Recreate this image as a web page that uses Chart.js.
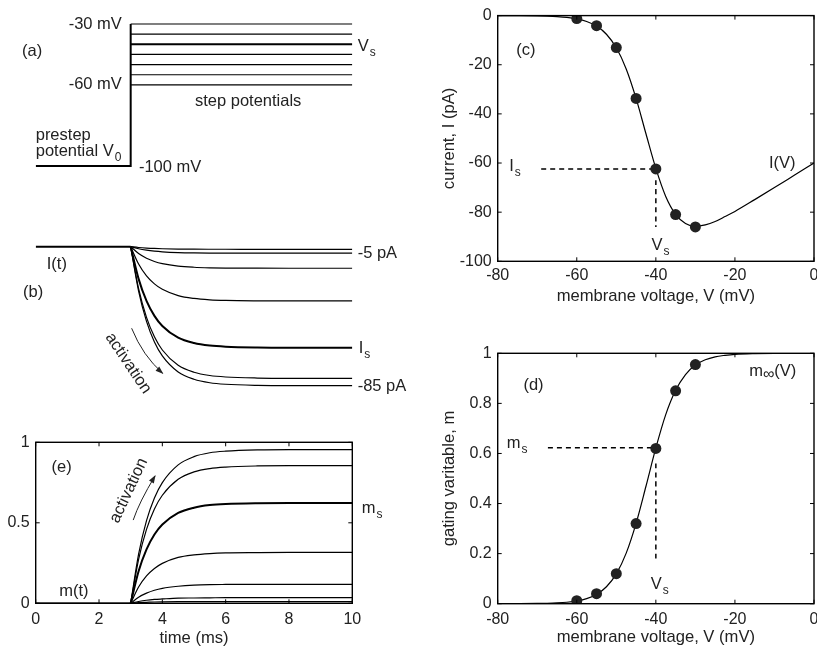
<!DOCTYPE html>
<html>
<head>
<meta charset="utf-8">
<script src="https://cdn.jsdelivr.net/npm/chart.js@4.4.1/dist/chart.umd.min.js"></script>
<style>
  html, body { margin: 0; padding: 0; background: #fff; overflow: hidden; width: 817px; height: 650px; }
  canvas { position: absolute; }
</style>
</head>
<body>
<canvas id="panelA" width="430" height="190" style="left:0;top:0"></canvas>
<canvas id="panelB" width="430" height="215" style="left:0;top:190px"></canvas>
<canvas id="panelE" width="430" height="243" style="left:0;top:405px"></canvas>
<canvas id="panelC" width="400" height="310" style="left:435px;top:0"></canvas>
<canvas id="panelD" width="400" height="327" style="left:435px;top:320px"></canvas>
<script>
// (a) clamp protocol
var prestepTime = [0, 3, 3];
var prestepVolt = [-100, -100, -30];
var stepTime = [3, 10];
var stepVolts = [-30, -35, -40, -45, -50, -55, -60];

// time axis of the responses (ms)
var holdTime = [0, 3];
var holdLevel = [0, 0];
var traceTime = [3, 3.25, 3.5, 3.75, 4, 4.5, 5, 5.5, 6, 7, 8, 10];

// (b) current traces in pA, same order as stepVolts
var currentTraces = [
    [0, -27.12, -45.65, -58.23, -66.73, -76.59, -81.09, -83.22, -84.15, -84.83, -85, -85],
    [0, -25.68, -43.23, -55.14, -63.19, -72.53, -76.8, -78.81, -79.7, -80.34, -80.5, -80.5],
    [0, -19.71, -33.19, -42.33, -48.51, -55.68, -58.96, -60.5, -61.18, -61.68, -61.8, -61.8],
    [0, -10.59, -17.83, -22.74, -26.06, -29.91, -31.67, -32.5, -32.87, -33.13, -33.2, -33.2],
    [0, -4.21, -7.09, -9.04, -10.36, -11.89, -12.59, -12.92, -13.07, -13.17, -13.2, -13.2],
    [0, -1.28, -2.15, -2.74, -3.14, -3.6, -3.82, -3.92, -3.96, -3.99, -4, -4],
    [0, -0.51, -0.86, -1.1, -1.26, -1.44, -1.53, -1.57, -1.58, -1.6, -1.6, -1.6]
];

// (e) gating variable traces, same order
var gateTraces = [
    [0, 0.305, 0.513, 0.654, 0.75, 0.86, 0.911, 0.935, 0.945, 0.953, 0.955, 0.955],
    [0, 0.273, 0.459, 0.586, 0.671, 0.77, 0.816, 0.837, 0.846, 0.853, 0.855, 0.855],
    [0, 0.199, 0.335, 0.427, 0.489, 0.561, 0.594, 0.61, 0.617, 0.622, 0.623, 0.623],
    [0, 0.101, 0.17, 0.216, 0.248, 0.285, 0.301, 0.309, 0.313, 0.315, 0.316, 0.316],
    [0, 0.038, 0.063, 0.081, 0.093, 0.106, 0.113, 0.116, 0.117, 0.118, 0.118, 0.118],
    [0, 0.011, 0.019, 0.024, 0.027, 0.032, 0.033, 0.034, 0.035, 0.035, 0.035, 0.035],
    [0, 0.004, 0.006, 0.008, 0.009, 0.01, 0.01, 0.011, 0.011, 0.011, 0.011, 0.011]
];
var thickTrace = 2; // the V_s step

// (c), (d) measured points
var sampleVolt = [-60, -55, -50, -45, -40, -35, -30];
var sampleCurrent = [-1.2, -4.1, -13, -33.7, -62.4, -81, -86];
var sampleGate = [0.012, 0.04, 0.12, 0.32, 0.62, 0.85, 0.955];

// fitted curves I(V) and m_inf(V)
var curveVolt = [-80, -75, -70, -67.5, -65, -62.5, -60, -57.5, -55, -52.5, -50, -47.5, -45, -42.5, -40,
    -37.5, -35, -32.5, -30, -27.5, -25, -22.5, -20, -15, -10, -5, 0];
var curveCurrent = [-0.01, -0.04, -0.12, -0.22, -0.4, -0.72, -1.32, -2.39, -4.26, -7.6, -13.1, -21.7, -33.7, -48.1, -62.2,
    -73.6, -80.9, -84.6, -85.8, -85.2, -83.8, -81.8, -79.7, -74.9, -70, -65, -60];
var curveGate = [0.0001, 0.0003, 0.0009, 0.0017, 0.0032, 0.0059, 0.011, 0.0203, 0.037, 0.0676, 0.119, 0.202, 0.321, 0.469, 0.622,
    0.755, 0.852, 0.915, 0.953, 0.974, 0.986, 0.992, 0.996, 0.999, 1, 1, 1];

// dashed guides at V_s
var guideCurrentH = { v: [-69, -40], i: [-62.4, -62.4] };
var guideCurrentV = { v: [-40, -40], i: [-67, -86] };
var guideGateH = { v: [-67.3, -40], m: [0.623, 0.623] };
var guideGateV = { v: [-40, -40], m: [0.56, 0.175] };

var FONT = '"Liberation Sans", Arial, Helvetica, sans-serif';
Chart.defaults.font.family = FONT;
Chart.defaults.font.size = 16;
Chart.defaults.color = '#222';
Chart.defaults.animation = false;
Chart.defaults.responsive = false;
Chart.defaults.devicePixelRatio = 1;
Chart.defaults.plugins.legend.display = false;
Chart.defaults.plugins.tooltip.enabled = false;

function pts(xs, ys) {
    return xs.map(function (x, i) { return { x: x, y: ys[i] }; });
}

function lineSet(data, width, extra) {
    return Object.assign({
        data: data, showLine: true, borderColor: '#000', borderWidth: width || 1.2,
        pointRadius: 0, fill: false, cubicInterpolationMode: 'monotone'
    }, extra || {});
}

function drawParts(ctx, parts, x, y, align) {
    var sizes = parts.map(function (p) {
        if (p[1] === 'sub') return { size: 12, dy: 6, gap: 1 };
        if (p[1] === 'low') return { size: 16, dy: 3, gap: 0 };
        return { size: 16.5, dy: 0, gap: 0 };
    });
    var widths = parts.map(function (p, i) {
        ctx.font = sizes[i].size + 'px ' + FONT;
        return ctx.measureText(p[0]).width + sizes[i].gap;
    });
    var total = widths.reduce(function (a, b) { return a + b; }, 0);
    var cx = align === 'right' ? x - total : (align === 'center' ? x - total / 2 : x);
    parts.forEach(function (p, i) {
        ctx.font = sizes[i].size + 'px ' + FONT;
        ctx.fillText(p[0], cx + sizes[i].gap, y + sizes[i].dy);
        cx += widths[i];
    });
}

// text labels placed in data coordinates
function notesPlugin(items) {
    return {
        id: 'notes',
        afterDraw: function (chart) {
            var ctx = chart.ctx, sx = chart.scales.x, sy = chart.scales.y;
            ctx.save();
            ctx.fillStyle = '#222';
            ctx.textBaseline = 'middle';
            items.forEach(function (n) {
                ctx.save();
                ctx.translate(sx.getPixelForValue(n.x), sy.getPixelForValue(n.y));
                if (n.rot) ctx.rotate(n.rot * Math.PI / 180);
                drawParts(ctx, n.parts, 0, 0, n.align || 'left');
                ctx.restore();
            });
            ctx.restore();
        }
    };
}

// curved arrows (quadratic) in data coordinates
function arrowPlugin(items) {
    return {
        id: 'arrows',
        afterDraw: function (chart) {
            var ctx = chart.ctx, sx = chart.scales.x, sy = chart.scales.y;
            ctx.save();
            ctx.strokeStyle = '#222';
            ctx.fillStyle = '#222';
            ctx.lineWidth = 1;
            items.forEach(function (a) {
                var p0 = [sx.getPixelForValue(a.from[0]), sy.getPixelForValue(a.from[1])];
                var p1 = [sx.getPixelForValue(a.ctrl[0]), sy.getPixelForValue(a.ctrl[1])];
                var p2 = [sx.getPixelForValue(a.to[0]), sy.getPixelForValue(a.to[1])];
                ctx.beginPath();
                ctx.moveTo(p0[0], p0[1]);
                ctx.quadraticCurveTo(p1[0], p1[1], p2[0], p2[1]);
                ctx.stroke();
                var ang = Math.atan2(p2[1] - p1[1], p2[0] - p1[0]);
                ctx.save();
                ctx.translate(p2[0], p2[1]);
                ctx.rotate(ang);
                ctx.beginPath();
                ctx.moveTo(1, 0);
                ctx.lineTo(-7, -2.8);
                ctx.lineTo(-7, 2.8);
                ctx.closePath();
                ctx.fill();
                ctx.restore();
            });
            ctx.restore();
        }
    };
}

// matlab style box with inward ticks
var framePlugin = {
    id: 'frame',
    afterDatasetsDraw: function (chart) {
        var ctx = chart.ctx, a = chart.chartArea, len = 4;
        var sx = chart.scales.x, sy = chart.scales.y;
        ctx.save();
        ctx.strokeStyle = '#000';
        ctx.lineWidth = 1;
        sx.ticks.forEach(function (t) {
            var px = sx.getPixelForValue(t.value);
            ctx.beginPath();
            ctx.moveTo(px, a.bottom); ctx.lineTo(px, a.bottom - len);
            ctx.moveTo(px, a.top); ctx.lineTo(px, a.top + len);
            ctx.stroke();
        });
        sy.ticks.forEach(function (t) {
            var py = sy.getPixelForValue(t.value);
            ctx.beginPath();
            ctx.moveTo(a.left, py); ctx.lineTo(a.left + len, py);
            ctx.moveTo(a.right, py); ctx.lineTo(a.right - len, py);
            ctx.stroke();
        });
        ctx.lineWidth = 1.4;
        ctx.strokeRect(a.left, a.top, a.right - a.left, a.bottom - a.top);
        ctx.restore();
    }
};

function hiddenScales(ymin, ymax) {
    return {
        x: { type: 'linear', display: false, min: 0, max: 10 },
        y: { type: 'linear', display: false, min: ymin, max: ymax }
    };
}

function plainNumber(v) {
    return String(Math.round(v * 100) / 100);
}

function shownScale(min, max, step, pad, title, titlePad, fit) {
    var s = {
        type: 'linear', min: min, max: max,
        ticks: { stepSize: step, padding: pad, callback: plainNumber },
        grid: { display: false, drawTicks: false },
        border: { display: false },
        afterFit: fit
    };
    if (title) s.title = { display: true, text: title, padding: titlePad, font: { size: 16.6 } };
    return s;
}

// ---- panel (a)
var aSets = [lineSet(pts(prestepTime, prestepVolt), 2, { cubicInterpolationMode: 'default', tension: 0 })];
stepVolts.forEach(function (v, i) {
    aSets.push(lineSet(pts(stepTime, [v, v]), i === thickTrace ? 2 : 1.2, { tension: 0 }));
});
new Chart(document.getElementById('panelA'), {
    type: 'scatter',
    data: { datasets: aSets },
    options: {
        layout: { padding: { left: 35.7, right: 77.7, top: 13.85, bottom: 13.75 } },
        scales: hiddenScales(-105, -25)
    },
    plugins: [notesPlugin([
        { x: 2.72, y: -30, parts: [['-30 mV']], align: 'right' },
        { x: 2.72, y: -60, parts: [['-60 mV']], align: 'right' },
        { x: -0.43, y: -43.6, parts: [['(a)']] },
        { x: 10.17, y: -41.2, parts: [['V'], ['s', 'sub']] },
        { x: 6.71, y: -68.3, parts: [['step potentials']], align: 'center' },
        { x: 0, y: -84.7, parts: [['prestep']] },
        { x: 0, y: -92.9, parts: [['potential V'], ['0', 'sub']] },
        { x: 3.26, y: -100.8, parts: [['-100 mV']] }
    ])]
});

// ---- panel (b)
var bSets = [lineSet(pts(holdTime, holdLevel), 2, { tension: 0 })];
currentTraces.forEach(function (tr, i) {
    bSets.push(lineSet(pts(traceTime, tr), i === thickTrace ? 2 : 1.2));
});
new Chart(document.getElementById('panelB'), {
    type: 'scatter',
    data: { datasets: bSets },
    options: {
        layout: { padding: { left: 35.7, right: 77.7, top: 48.5, bottom: 3 } },
        scales: hiddenScales(-95, 5)
    },
    plugins: [notesPlugin([
        { x: 0.35, y: -10.8, parts: [['I(t)']] },
        { x: -0.4, y: -28.1, parts: [['(b)']] },
        { x: 10.17, y: -4, parts: [['-5 pA']] },
        { x: 10.2, y: -62.1, parts: [['I'], ['s', 'sub']] },
        { x: 10.17, y: -85.2, parts: [['-85 pA']] },
        { x: 2.92, y: -71.3, parts: [['activation']], align: 'center', rot: 56 }
    ]), arrowPlugin([
        { from: [3.03, -49.9], ctrl: [3.38, -66.7], to: [4.01, -77.4] }
    ])]
});

// ---- panel (e)
var eSets = [lineSet(pts(holdTime, holdLevel), 1.5, { tension: 0 })];
gateTraces.forEach(function (tr, i) {
    eSets.push(lineSet(pts(traceTime, tr), i === thickTrace ? 2 : 1.2));
});
new Chart(document.getElementById('panelE'), {
    type: 'scatter',
    data: { datasets: eSets },
    options: {
        layout: { padding: { left: 0, right: 77.7, top: 37.3, bottom: 0 } },
        scales: {
            x: shownScale(0, 10, 2, 7, 'time (ms)', { top: 0, bottom: 0 }, function (s) { s.height = 44.7; }),
            y: shownScale(0, 1, 0.5, 6, null, null, function (s) { s.width = 35.7; })
        }
    },
    plugins: [framePlugin, notesPlugin([
        { x: 0.5, y: 0.843, parts: [['(e)']] },
        { x: 0.745, y: 0.072, parts: [['m(t)']] },
        { x: 10.3, y: 0.59, parts: [['m'], ['s', 'sub']] },
        { x: 2.94, y: 0.7, parts: [['activation']], align: 'center', rot: -65 }
    ]), arrowPlugin([
        { from: [3.08, 0.517], ctrl: [3.27, 0.629], to: [3.77, 0.791] }
    ])]
});

// ---- panel (c)
new Chart(document.getElementById('panelC'), {
    type: 'scatter',
    data: {
        datasets: [
            { data: pts(sampleVolt, sampleCurrent), pointRadius: 5.5, backgroundColor: '#222', borderWidth: 0 },
            lineSet(pts(curveVolt, curveCurrent), 1.2),
            lineSet(pts(guideCurrentH.v, guideCurrentH.i), 1.5, { borderDash: [5, 4] }),
            lineSet(pts(guideCurrentV.v, guideCurrentV.i), 1.5, { borderDash: [5, 4] })
        ]
    },
    options: {
        layout: { padding: { left: 0, right: 21, top: 11.7, bottom: 0 } },
        scales: {
            x: shownScale(-80, 0, 20, 5, 'membrane voltage, V (mV)', { top: 0, bottom: 4 }, function (s) { s.height = 48.7; }),
            y: shownScale(-100, 0, 20, 6, 'current, I (pA)', { top: 4, bottom: 0 }, function (s) { s.width = 62.7; })
        }
    },
    plugins: [framePlugin, notesPlugin([
        { x: -75.3, y: -14, parts: [['(c)']] },
        { x: -77.1, y: -61.4, parts: [['I'], ['s', 'sub']] },
        { x: -11.4, y: -60.3, parts: [['I(V)']] },
        { x: -41.1, y: -93.5, parts: [['V'], ['s', 'sub']] }
    ])]
});

// ---- panel (d)
new Chart(document.getElementById('panelD'), {
    type: 'scatter',
    data: {
        datasets: [
            { data: pts(sampleVolt, sampleGate), pointRadius: 5.5, backgroundColor: '#222', borderWidth: 0 },
            lineSet(pts(curveVolt, curveGate), 1.2),
            lineSet(pts(guideGateH.v, guideGateH.m), 1.5, { borderDash: [5, 4] }),
            lineSet(pts(guideGateV.v, guideGateV.m), 1.5, { borderDash: [5, 4] })
        ]
    },
    options: {
        layout: { padding: { left: 0, right: 21, top: 33.3, bottom: 0 } },
        scales: {
            x: shownScale(-80, 0, 20, 6, 'membrane voltage, V (mV)', { top: 0, bottom: 0 }, function (s) { s.height = 43.3; }),
            y: shownScale(0, 1, 0.2, 6, 'gating varitable, m', { top: 4, bottom: 0 }, function (s) { s.width = 62.7; })
        }
    },
    plugins: [framePlugin, notesPlugin([
        { x: -73.5, y: 0.873, parts: [['(d)']] },
        { x: -77.7, y: 0.64, parts: [['m'], ['s', 'sub']] },
        { x: -16.4, y: 0.927, parts: [['m'], ['\u221e', 'low'], ['(V)']] },
        { x: -41.3, y: 0.075, parts: [['V'], ['s', 'sub']] }
    ])]
});
</script>
</body>
</html>
